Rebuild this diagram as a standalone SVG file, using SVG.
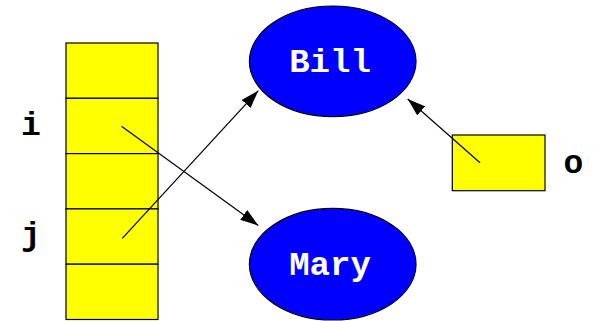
<svg xmlns="http://www.w3.org/2000/svg" width="595" height="321" viewBox="0 0 595 321">
<style>
.cell{fill:#ffff00;stroke:#000;stroke-width:1.2}
.node{fill:#0000ff;stroke:#000;stroke-width:1.2}
.nt{font-family:"Liberation Mono","Courier New",monospace;font-weight:bold;font-size:34px;fill:#fff;text-anchor:middle}
.lbl{font-family:"Liberation Mono","Courier New",monospace;font-weight:bold;font-size:33px;fill:#000;text-anchor:middle}
.edge{stroke:#000;stroke-width:1.2;fill:none;marker-end:url(#ah)}
</style>
<defs>
<marker id="ah" markerUnits="userSpaceOnUse" markerWidth="20" markerHeight="12" refX="18" refY="6" orient="auto">
<path d="M0,0 L18,6 L0,12 Z" fill="#000"/>
</marker>
</defs>
<rect width="595" height="321" fill="#fff"/>
<g id="stack">
<rect class="cell" x="66" y="43" width="92" height="55.3"/>
<rect class="cell" x="66" y="98.3" width="92" height="55.3"/>
<rect class="cell" x="66" y="153.6" width="92" height="55.3"/>
<rect class="cell" x="66" y="208.9" width="92" height="55.3"/>
<rect class="cell" x="66" y="264.2" width="92" height="55.3"/>
</g>
<g id="label-i"><text class="lbl" x="31" y="135">i</text></g>
<g id="label-j"><text class="lbl" x="31" y="245">j</text></g>
<g id="bill">
<ellipse class="node" cx="332.7" cy="61.3" rx="83.3" ry="55.3"/>
<text class="nt" x="330" y="72">Bill</text>
</g>
<g id="mary">
<ellipse class="node" cx="332.7" cy="264.2" rx="83.3" ry="55.8"/>
<text class="nt" x="330" y="274.5">Mary</text>
</g>
<g id="obox">
<rect class="cell" x="452.3" y="135" width="92.7" height="55.7"/>
</g>
<g id="label-o"><text class="lbl" x="573.3" y="172.7">o</text></g>
<g id="connectors">
<line class="edge" x1="121.5" y1="126.3" x2="258.3" y2="225.5"/>
<line class="edge" x1="122.3" y1="238.3" x2="258.3" y2="90.7"/>
<line class="edge" x1="480" y1="162.7" x2="407.7" y2="99"/>
</g>
</svg>
